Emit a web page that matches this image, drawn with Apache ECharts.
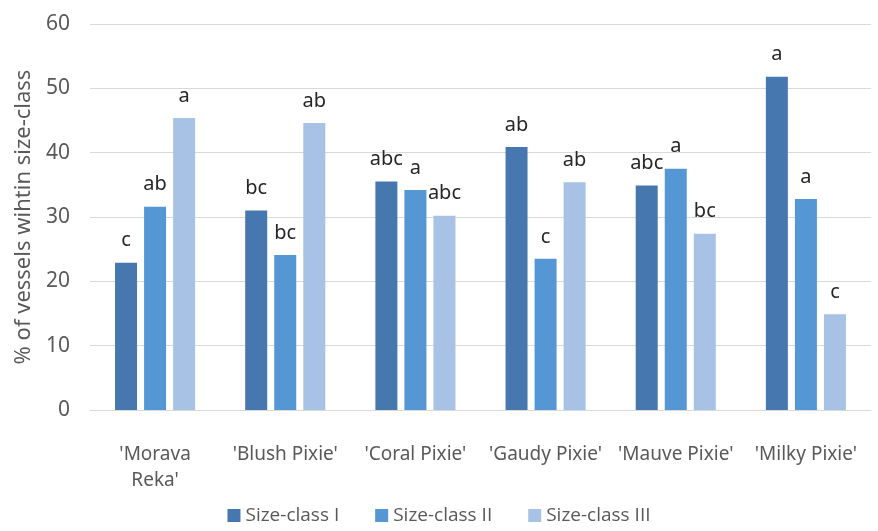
<!DOCTYPE html>
<html>
<head>
<meta charset="utf-8">
<script src="https://cdn.jsdelivr.net/npm/echarts@6/dist/echarts.min.js"></script>
<style>
  html, body { margin: 0; padding: 0; background: #fff; }
  #chart { width: 878px; height: 531px; }
</style>
</head>
<body>
<div id="chart"></div>
<script>
// cultivars on the x axis
const categories = ["'Morava Reka'", "'Blush Pixie'", "'Coral Pixie'", "'Gaudy Pixie'", "'Mauve Pixie'", "'Milky Pixie'"]

// % of vessels per size-class
const sizeClassI = [22.9, 31.0, 35.5, 40.9, 34.9, 51.8]
const sizeClassII = [31.6, 24.1, 34.2, 23.5, 37.5, 32.8]
const sizeClassIII = [45.4, 44.6, 30.2, 35.4, 27.4, 14.9]

// significance letters above the bars
const lettersI = ['c', 'bc', 'abc', 'ab', 'abc', 'a']
const lettersII = ['ab', 'bc', 'a', 'c', 'a', 'a']
const lettersIII = ['a', 'ab', 'abc', 'ab', 'bc', 'c']

const yTicks = { min: 0, max: 60, step: 10 }

const FONT = 'Noto Sans'
const colors = ['#4677ae', '#5596d4', '#a8c2e5']

function makeSeries(name, values, letters, color) {
  return {
    name,
    type: 'bar',
    data: values,
    barWidth: 22,
    barGap: '32%',
    itemStyle: { color },
    label: {
      show: true,
      position: 'top',
      distance: 12,
      fontFamily: FONT,
      fontSize: 20,
      color: '#262626',
      formatter: p => letters[p.dataIndex]
    }
  }
}

const chart = echarts.init(document.getElementById('chart'))
chart.setOption({
  animation: false,
  color: colors,
  textStyle: { fontFamily: FONT },
  grid: { left: 90, right: 7, top: 24, bottom: 121 },
  legend: {
    bottom: 1,
    left: 'center',
    itemWidth: 13,
    itemHeight: 13,
    itemGap: 36,
    icon: 'rect',
    textStyle: { fontFamily: 'Open Sans', fontSize: 19, color: '#595959' },
    data: ['Size-class I', 'Size-class II', 'Size-class III']
  },
  xAxis: {
    type: 'category',
    data: categories,
    axisLine: { lineStyle: { color: '#d9d9d9' } },
    axisTick: { show: false },
    axisLabel: {
      interval: 0,
      margin: 32,
      fontFamily: FONT,
      fontSize: 19,
      lineHeight: 26,
      color: '#595959',
      formatter: v => v === "'Morava Reka'" ? "'Morava\nReka'" : v
    }
  },
  yAxis: {
    type: 'value',
    min: yTicks.min,
    max: yTicks.max,
    interval: yTicks.step,
    name: '% of vessels wihtin size-class',
    nameLocation: 'middle',
    nameGap: 50,
    nameTextStyle: { fontFamily: FONT, fontSize: 22, color: '#595959' },
    axisLine: { show: false },
    axisTick: { show: false },
    axisLabel: { fontFamily: FONT, fontSize: 21, color: '#595959', margin: 20 },
    splitLine: { lineStyle: { color: '#d9d9d9' } }
  },
  series: [
    makeSeries('Size-class I', sizeClassI, lettersI, colors[0]),
    makeSeries('Size-class II', sizeClassII, lettersII, colors[1]),
    makeSeries('Size-class III', sizeClassIII, lettersIII, colors[2])
  ]
})
</script>
</body>
</html>
